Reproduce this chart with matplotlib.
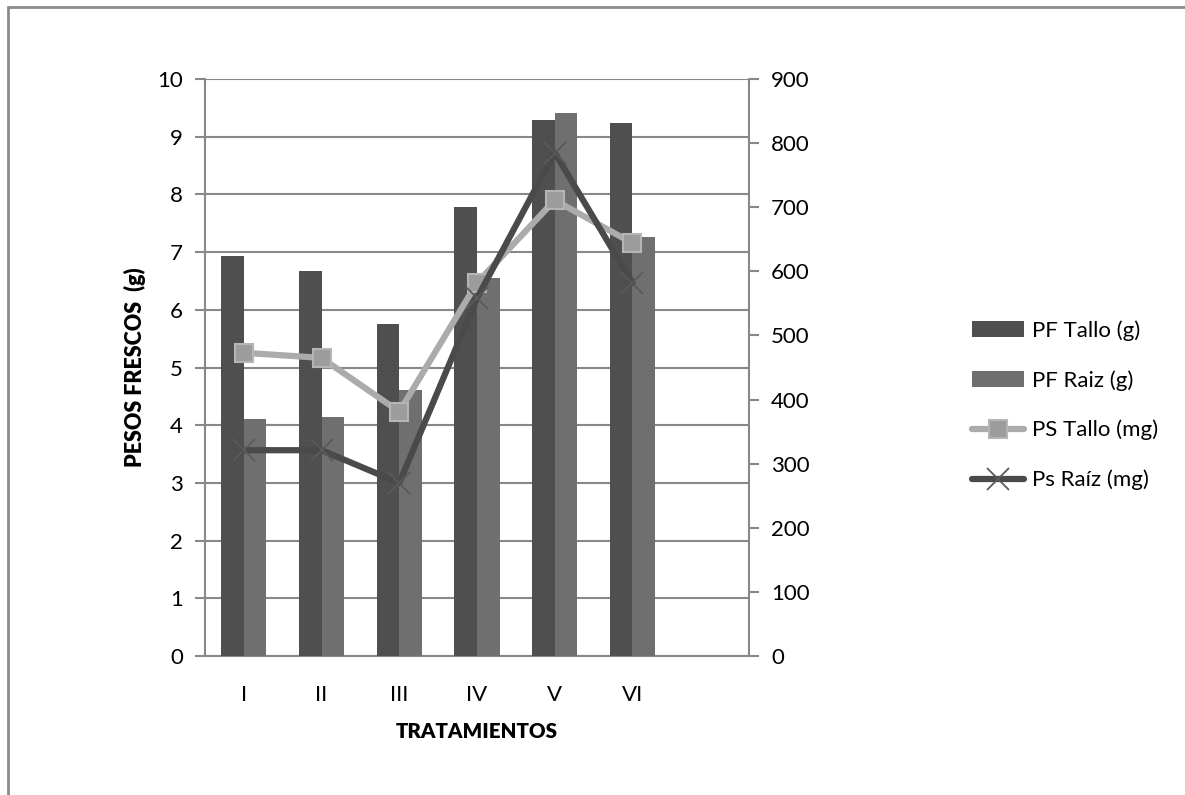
import numpy as np
import matplotlib
matplotlib.use("Agg")
import matplotlib.pyplot as plt
from matplotlib.patches import Rectangle

plt.rcParams['font.family'] = ['Lato', 'DejaVu Sans']

# datos
tratamientos = ['I', 'II', 'III', 'IV', 'V', 'VI', '']
pf_tallo = [6.93, 6.67, 5.75, 7.78, 9.29, 9.24]      # g
pf_raiz = [4.11, 4.14, 4.61, 6.55, 9.41, 7.26]       # g
ps_tallo = [473, 465, 381, 582, 711, 644]            # mg
ps_raiz = [321, 321, 270, 558, 785, 582]             # mg

GRIS = '#888888'
FS = 16

fig = plt.figure(figsize=(11.85, 7.95), dpi=100)
ax = fig.add_axes([205 / 1185, 1 - 656 / 795, (749 - 205) / 1185, (656 - 79) / 795])
ax2 = ax.twinx()

x = np.arange(len(pf_tallo))
w = 0.29

ax.bar(x - w / 2, pf_tallo, width=w, color='#4f4f4f', label='PF Tallo (g)', zorder=3)
ax.bar(x + w / 2, pf_raiz, width=w, color='#6f6f6f', label='PF Raiz (g)', zorder=3)

ax2.plot(x, ps_tallo, color='#ababab', lw=4.5, marker='s', markersize=13,
         markerfacecolor='#9c9c9c', markeredgecolor='#b5b5b5', mew=1.5,
         solid_capstyle='round', label='PS Tallo (mg)')
ax2.plot(x, ps_raiz, color='#4a4a4a', lw=4.5, marker='x', markersize=16,
         markeredgecolor='#5a5a5a', mew=1.3,
         solid_capstyle='round', label='Ps Raíz (mg)')

# ejes
ax.set_xlim(-0.5, len(tratamientos) - 0.5)
ax.set_ylim(0, 10)
ax.set_yticks(np.arange(0, 11, 1))
ax2.set_ylim(0, 900)
ax2.set_yticks(np.arange(0, 901, 100))
ax.set_xticks(np.arange(len(tratamientos)))
ax.set_xticklabels(tratamientos)

ax.grid(axis='y', color=GRIS, lw=1.5, zorder=0)
ax.set_axisbelow(True)

for a in (ax, ax2):
    for s in a.spines.values():
        s.set_visible(False)
ax.spines['left'].set_visible(True)
ax.spines['bottom'].set_visible(True)
ax2.spines['right'].set_visible(True)
for s in (ax.spines['left'], ax.spines['bottom'], ax2.spines['right']):
    s.set_color(GRIS)
    s.set_linewidth(1.5)

ax.tick_params(axis='y', length=7, width=1.5, color=GRIS, labelsize=FS, pad=9)
ax.tick_params(axis='x', length=0, labelsize=FS, pad=21)
ax2.tick_params(axis='y', length=7, width=1.5, color=GRIS, labelsize=FS, pad=9)

ax.set_ylabel('PESOS FRESCOS  (g)', fontsize=15.5, fontweight='heavy', labelpad=8)
ax.set_xlabel('TRATAMIENTOS', fontsize=14.8, fontweight='heavy', labelpad=12)

# leyenda
h1, l1 = ax.get_legend_handles_labels()
h2, l2 = ax2.get_legend_handles_labels()
fig.legend(h1 + h2, l1 + l2, loc='upper left',
           bbox_to_anchor=(952 / 1185, 1 - 300 / 795), frameon=False,
           fontsize=FS, handlelength=2.35, handletextpad=0.35, labelspacing=1.32)

# marco exterior
fig.patches.append(Rectangle((8 / 1185, -0.05), 1.2, 1 - 7 / 795 + 0.05,
                             transform=fig.transFigure, fill=False,
                             edgecolor='#8c8c8c', lw=2))

fig.savefig('out.png', dpi=100)
